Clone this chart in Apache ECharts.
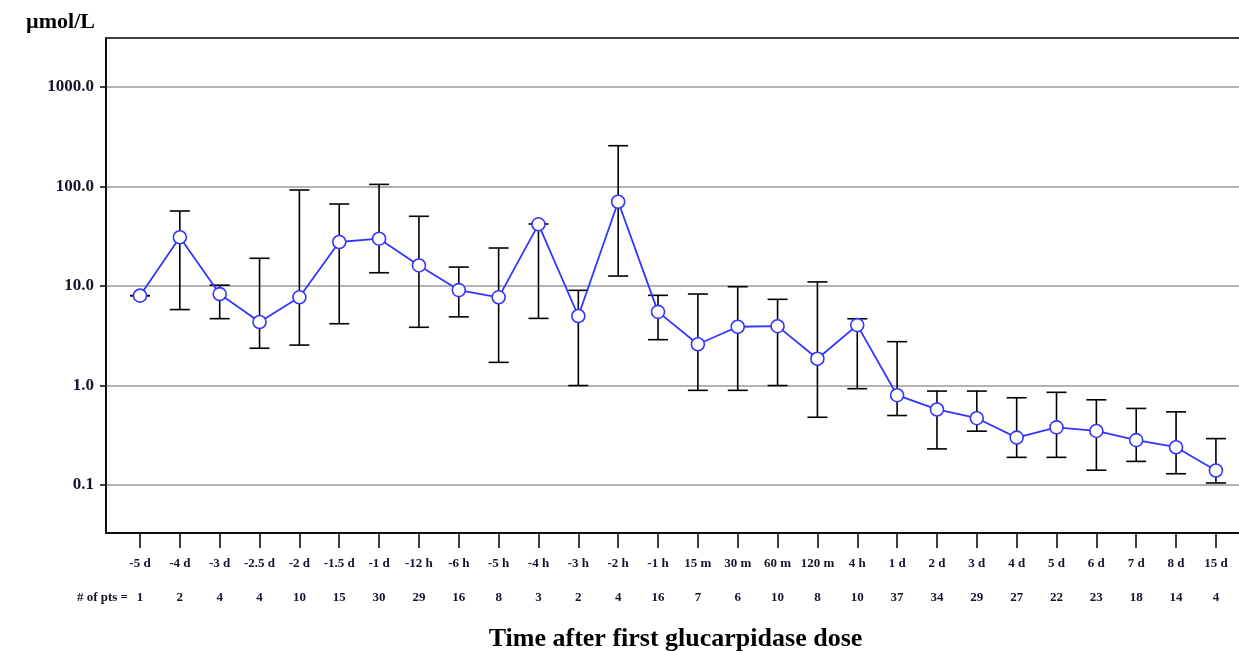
<!DOCTYPE html>
<html>
<head>
<meta charset="utf-8">
<script src="https://cdn.jsdelivr.net/npm/echarts@6/dist/echarts.min.js"></script>
<style>
  html, body { margin: 0; padding: 0; background: #fff; }
  #chart { width: 1239px; height: 651px; }
</style>
</head>
<body>
<div id="chart"></div>
<script>
// Time points relative to the first glucarpidase dose
const timeLabels = ['-5 d', '-4 d', '-3 d', '-2.5 d', '-2 d', '-1.5 d', '-1 d', '-12 h', '-6 h', '-5 h',
  '-4 h', '-3 h', '-2 h', '-1 h', '15 m', '30 m', '60 m', '120 m', '4 h', '1 d',
  '2 d', '3 d', '4 d', '5 d', '6 d', '7 d', '8 d', '15 d'];
// Number of patients sampled at each time point
const pointCounts = [1, 2, 4, 4, 10, 15, 30, 29, 16, 8, 3, 2, 4, 16, 7, 6, 10, 8, 10, 37,
  34, 29, 27, 22, 23, 18, 14, 4];
// Central concentration (µmol/L)
const centerValues = [8.0, 30.9, 8.3, 4.35, 7.7, 27.7, 29.9, 16.1, 9.1, 7.7,
  41.7, 5.0, 70.3, 5.5, 2.6, 3.9, 3.95, 1.86, 4.05, 0.8,
  0.575, 0.47, 0.3, 0.38, 0.35, 0.283, 0.24, 0.14];
// Lower and upper ends of each range bar (µmol/L)
const lowerValues = [8.0, 5.8, 4.7, 2.37, 2.55, 4.18, 13.6, 3.85, 4.9, 1.71,
  4.73, 1.0, 12.6, 2.89, 0.895, 0.895, 1.0, 0.48, 0.93, 0.5,
  0.231, 0.348, 0.19, 0.19, 0.141, 0.173, 0.13, 0.105];
const upperValues = [8.0, 56.7, 10.2, 19.0, 92.2, 66.7, 105, 50.2, 15.5, 24.1,
  42, 9.05, 257, 8.06, 8.31, 9.84, 7.35, 11.0, 4.69, 2.76,
  0.88, 0.88, 0.754, 0.855, 0.719, 0.589, 0.544, 0.293];
// Y-axis gridline values and minor (2..9) log ticks
const majorTicks = [0.1, 1, 10, 100, 1000];
const minorTicks = [];
[0.01, 0.1, 1, 10, 100, 1000].forEach(d => {
  for (let k = 2; k <= 9; k++) {
    const v = +(d * k).toPrecision(3);
    if (v > 0.034 && v < 3100) minorTicks.push(v);
  }
});

const idx = timeLabels.map((_, i) => i);
const lineData = idx.map(i => [i, centerValues[i]]);
const barData = idx.map(i => [i, lowerValues[i], upperValues[i]]);

const serif = '"Liberation Serif", "DejaVu Serif", serif';
const textColor = '#14142a';
const blue = '#3434ff';

const chart = echarts.init(document.getElementById('chart'), null, { renderer: 'canvas' });

// Horizontal extent in time-point index units (points sit at whole numbers)
const xRange = { min: -0.853, max: 27.73 };
const catFont = { fontFamily: serif, fontWeight: 'bold', fontSize: 13, color: textColor };

chart.setOption({
  animation: false,
  backgroundColor: '#fff',
  grid: {
    left: 106, top: 38, right: -6, bottom: 118,
    outerBoundsMode: 'none',
    show: true, borderColor: '#000', borderWidth: 1.5, backgroundColor: 'transparent'
  },
  xAxis: [
    {
      type: 'value', position: 'bottom', ...xRange,
      axisLine: { show: true, onZero: false, lineStyle: { color: '#000', width: 1.5 } },
      axisTick: { show: true, customValues: idx, length: 15, lineStyle: { color: '#000', width: 1.5 } },
      axisLabel: {
        customValues: idx, margin: 24,
        formatter: v => timeLabels[Math.round(v)],
        ...catFont
      },
      splitLine: { show: false },
      name: 'Time after first glucarpidase dose',
      nameLocation: 'middle', nameGap: 93,
      nameTextStyle: { fontFamily: serif, fontWeight: 'bold', fontSize: 26, color: '#000' }
    },
    {
      type: 'value', position: 'bottom', ...xRange,
      axisLine: { show: false, onZero: false },
      axisTick: { show: false },
      axisLabel: {
        customValues: idx, margin: 58,
        formatter: v => String(pointCounts[Math.round(v)]),
        ...catFont
      },
      splitLine: { show: false }
    }
  ],
  yAxis: [
    {
      type: 'log', logBase: 10, min: 0.033, max: 3105,
      axisLine: { show: true, onZero: false, lineStyle: { color: '#000', width: 1.5 } },
      axisTick: { show: true, customValues: majorTicks, length: 6, lineStyle: { color: '#000', width: 1.5 } },
      axisLabel: {
        customValues: majorTicks, margin: 12,
        formatter: v => Number(v).toFixed(1),
        fontFamily: serif, fontWeight: 'bold', fontSize: 17, color: textColor
      },
      splitLine: { show: true, lineStyle: { color: '#9a9a9a', width: 1.5 } },
      name: 'µmol/L', nameLocation: 'end', nameGap: 5,
      nameTextStyle: {
        fontFamily: serif, fontWeight: 'bold', fontSize: 22, color: '#000',
        align: 'right', padding: [0, 11, 0, 0]
      }
    },
    {
      type: 'log', logBase: 10, min: 0.033, max: 3105,
      axisLine: { show: false, onZero: false },
      axisTick: { show: true, customValues: minorTicks, length: 3, lineStyle: { color: '#000', width: 1.2 } },
      axisLabel: { show: false },
      splitLine: { show: false }
    }
  ],
  graphic: [
    {
      type: 'text', x: 128, y: 591,
      style: { text: '# of pts =', font: 'bold 13px ' + serif, fill: textColor, align: 'right' }
    }
  ],
  series: [
    {
      // Range bars with end caps
      type: 'custom',
      xAxisIndex: 0, yAxisIndex: 0,
      data: barData,
      encode: { x: 0, y: [1, 2] },
      z: 2,
      renderItem: (params, api) => {
        const i = api.value(0);
        const lo = api.coord([i, api.value(1)]);
        const hi = api.coord([i, api.value(2)]);
        const hw = 10;
        const style = { stroke: '#000', lineWidth: 1.6 };
        return {
          type: 'group',
          children: [
            { type: 'line', shape: { x1: lo[0], y1: lo[1], x2: hi[0], y2: hi[1] }, style },
            { type: 'line', shape: { x1: hi[0] - hw, y1: hi[1], x2: hi[0] + hw, y2: hi[1] }, style },
            { type: 'line', shape: { x1: lo[0] - hw, y1: lo[1], x2: lo[0] + hw, y2: lo[1] }, style }
          ]
        };
      }
    },
    {
      type: 'line',
      xAxisIndex: 0, yAxisIndex: 0,
      data: lineData,
      z: 3,
      symbol: 'circle', symbolSize: 13,
      lineStyle: { color: blue, width: 1.8 },
      itemStyle: { color: '#fff', borderColor: blue, borderWidth: 1.6 }
    }
  ]
});
</script>
</body>
</html>
